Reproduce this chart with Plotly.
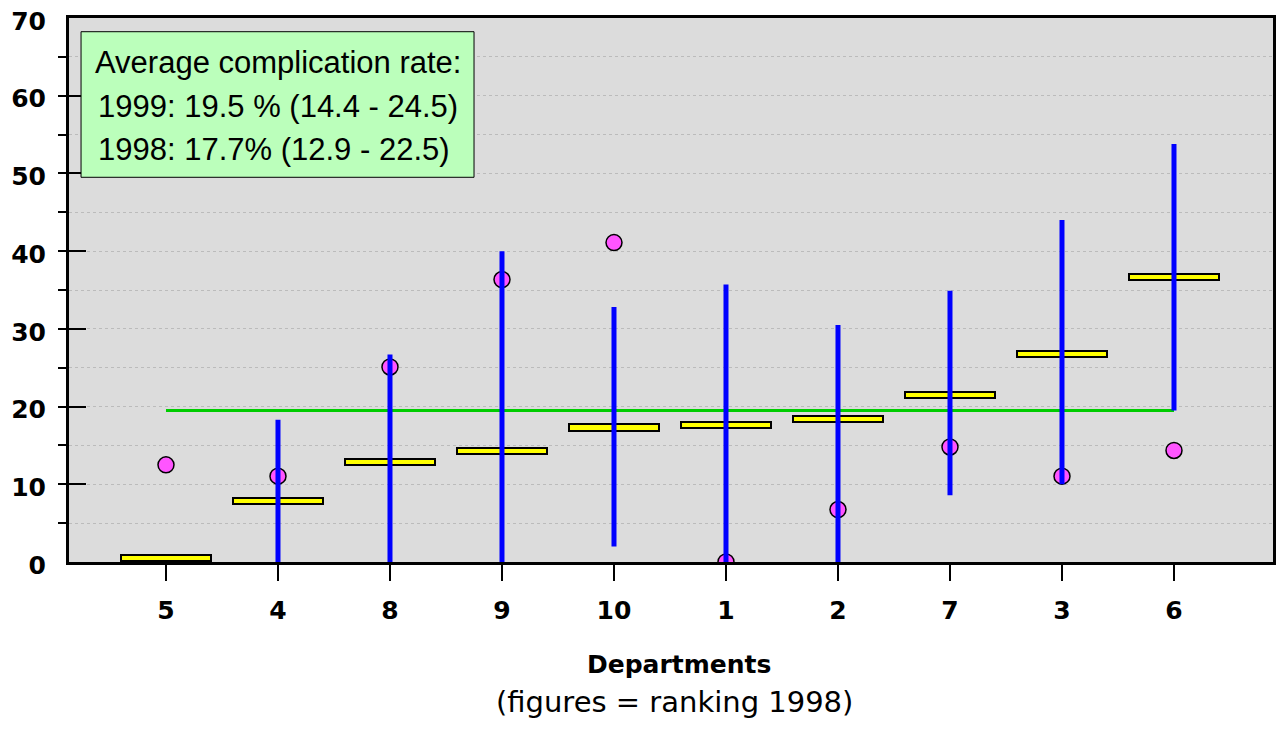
import plotly.graph_objects as go

# ---- data ----
departments = ["5", "4", "8", "9", "10", "1", "2", "7", "3", "6"]   # ranking 1998
rate_1998 = [0.5, 7.85, 12.9, 14.25, 17.3, 17.6, 18.4, 21.45, 26.8, 36.7]
rate_1999 = [12.5, 11.05, 25.1, 36.35, 41.1, 0.0, 6.75, 14.8, 11.05, 14.35]
ci_low_1999 = [None, 0.0, 0.0, 0.0, 2.0, 0.0, 0.0, 8.6, 10.0, 19.5]
ci_high_1999 = [None, 18.3, 26.7, 40.0, 32.8, 35.7, 30.5, 34.9, 44.0, 53.8]
avg_1999 = 19.5
box_lines = [
    "Average complication rate:",
    "1999: 19.5 % (14.4 - 24.5)",
    "1998: 17.7% (12.9 - 22.5)",
]
y_ticks = [0, 10, 20, 30, 40, 50, 60, 70]

# ---- styling constants ----
BAR_H = 0.82
BAR_W = 0.81
TICK_FONT = dict(family="DejaVu Sans", size=25, color="black", weight="bold")

idx = list(range(len(departments)))

fig = go.Figure()

# 1998 rates: yellow horizontal bars
fig.add_trace(go.Bar(
    x=idx, y=[BAR_H] * len(idx), base=[v - BAR_H / 2 for v in rate_1998],
    width=BAR_W, marker=dict(color="#ffff00", line=dict(color="black", width=2)),
    showlegend=False, hoverinfo="skip",
))

# average 1999 line
fig.add_trace(go.Scatter(
    x=[idx[0], idx[-1]], y=[avg_1999, avg_1999], mode="lines",
    line=dict(color="#00cc00", width=3), showlegend=False, hoverinfo="skip",
))

# 1999 rates: magenta circles
fig.add_trace(go.Scatter(
    x=idx, y=rate_1999, mode="markers",
    marker=dict(size=16, color="#ff55ff", line=dict(color="black", width=1.5)),
    showlegend=False,
))

# 1999 confidence intervals: blue vertical lines
cx, cy = [], []
for i, lo, hi in zip(idx, ci_low_1999, ci_high_1999):
    if lo is None or hi is None:
        continue
    cx += [i, i, None]
    cy += [lo, hi, None]
fig.add_trace(go.Scatter(
    x=cx, y=cy, mode="lines", line=dict(color="#0000ff", width=5),
    showlegend=False, hoverinfo="skip",
))

# ---- text box ----
fig.add_shape(type="rect", xref="paper", yref="paper",
              x0=0.0100, x1=0.3364, y0=0.7072, y1=0.9748,
              fillcolor="#bbffbb", line=dict(color="black", width=1), layer="above")
for txt, xp, yp in zip(box_lines, [0.1732, 0.1740, 0.1699], [0.9173, 0.8382, 0.7574]):
    fig.add_annotation(text=txt, xref="paper", yref="paper", x=xp, y=yp,
                       xanchor="center", yanchor="middle", showarrow=False,
                       font=dict(family="Liberation Sans", size=31, color="black"))

# axis titles
fig.add_annotation(text="Departments", xref="paper", yref="paper", x=0.5066, y=-0.1875,
                   xanchor="center", yanchor="middle", showarrow=False,
                   font=dict(family="DejaVu Sans", size=25, color="black", weight="bold"))
fig.add_annotation(text="(figures = ranking 1998)", xref="paper", yref="paper",
                   x=0.5033, y=-0.2568, xanchor="center", yanchor="middle", showarrow=False,
                   font=dict(family="DejaVu Sans", size=29, color="black"))

fig.update_layout(
    width=1277, height=734,
    margin=dict(l=69, r=4, t=18, b=172),
    paper_bgcolor="white", plot_bgcolor="#dcdcdc",
    bargap=0,
    xaxis=dict(
        range=[-0.866, 9.884], tickmode="array", tickvals=idx, ticktext=departments,
        ticks="outside", ticklen=16, tickwidth=1.5, tickcolor="black",
        tickfont=TICK_FONT, ticklabelstandoff=8, automargin=False,
        showline=True, linewidth=3, linecolor="black", mirror=True,
        showgrid=False, zeroline=False, fixedrange=True,
    ),
    yaxis=dict(
        range=[0, 70], tickmode="array", tickvals=y_ticks,
        ticks="inside", ticklen=17, tickwidth=2, tickcolor="black",
        tickfont=TICK_FONT, ticklabelstandoff=15, ticklabelshift=3, automargin=False,
        showline=True, linewidth=3, linecolor="black", mirror=True,
        showgrid=True, gridcolor="#bbbbbb", gridwidth=1, griddash="dot",
        zeroline=False, fixedrange=True,
        minor=dict(dtick=5, tick0=0, ticks="outside", ticklen=8, tickwidth=2,
                   tickcolor="black", showgrid=True, gridcolor="#bbbbbb",
                   gridwidth=1, griddash="dot"),
    ),
)

fig.write_html("out.html", config={"displayModeBar": False},
               post_script="document.body.style.margin='0';")
